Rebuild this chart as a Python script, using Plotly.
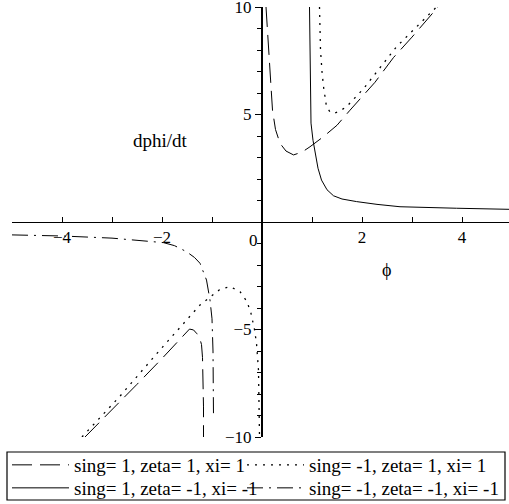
import plotly.graph_objects as go

# ---- data ----
dash_x = [0.08, 0.12, 0.15, 0.18, 0.21, 0.27, 0.36, 0.48, 0.63, 0.8, 0.96, 1.23, 1.5, 1.76, 2.26, 2.63, 3.0, 3.52,
          None,
          -3.54, -3.0, -2.5, -2.0, -1.7, -1.51, -1.45, -1.37, -1.3, -1.24, -1.21, -1.19, -1.18, -1.17, -1.17]
dash_y = [10.0, 8.4, 7.07, 6.0, 5.2, 4.3, 3.66, 3.3, 3.12, 3.25, 3.5, 3.97, 4.5, 5.2, 6.5, 7.65, 8.6, 10.0,
          None,
          -10.0, -8.75, -7.55, -6.35, -5.6, -5.1, -4.98, -5.02, -5.2, -5.45, -5.7, -6.3, -7.2, -8.6, -10.0]

dot_x = [1.15, 1.16, 1.17, 1.2, 1.23, 1.29, 1.36, 1.43, 1.55, 1.69, 2.03, 2.69, 3.49,
         None,
         -3.6, -2.84, -2.04, -1.51, -1.24, -1.04, -0.85, -0.64, -0.44, -0.3, -0.22, -0.15, -0.11, -0.07, -0.06, -0.05]
dot_y = [10.0, 9.0, 8.0, 7.0, 6.3, 5.36, 5.12, 5.05, 5.15, 5.36, 6.2, 8.15, 10.0,
         None,
         -10.0, -8.1, -5.95, -4.56, -3.86, -3.5, -3.15, -3.0, -3.24, -3.7, -4.25, -5.0, -5.64, -6.9, -8.4, -10.0]

solid_x = [0.95, 0.955, 0.96, 0.97, 0.98, 1.02, 1.06, 1.12, 1.19, 1.3, 1.43, 1.6, 1.89, 2.3, 2.76, 3.3, 3.89, 4.94]
solid_y = [10.0, 8.5, 7.2, 6.0, 4.6, 3.8, 3.25, 2.5, 1.95, 1.5, 1.22, 1.07, 0.95, 0.82, 0.71, 0.67, 0.64, 0.59]

dd_x = [-5.0, -4.0, -3.0, -2.5, -1.97, -1.75, -1.51, -1.35, -1.24, -1.11, -1.04, -1.0, -0.98, -0.97]
dd_y = [-0.6, -0.65, -0.75, -0.84, -0.96, -1.1, -1.38, -1.65, -1.92, -2.7, -3.63, -4.5, -6.0, -9.0]

names = ["sing= 1, zeta= 1, xi= 1", "sing= -1, zeta= 1, xi= 1",
         "sing= 1, zeta= -1, xi= -1", "sing= -1, zeta= -1, xi= -1"]

x_ticks = [-4, -2, 2, 4]
y_ticks = [-10, -5, 5, 10]

FONT = "Liberation Serif, Times New Roman, DejaVu Serif, serif"

fig = go.Figure()
fig.add_trace(go.Scatter(x=dash_x, y=dash_y, mode="lines", name=names[0], legend="legend",
                         line=dict(color="black", width=1, dash="20px,8px")))
fig.add_trace(go.Scatter(x=dot_x, y=dot_y, mode="lines", name=names[1], legend="legend2",
                         line=dict(color="black", width=1.3, dash="2px,6px")))
fig.add_trace(go.Scatter(x=solid_x, y=solid_y, mode="lines", name=names[2], legend="legend3",
                         line=dict(color="black", width=1)))
fig.add_trace(go.Scatter(x=dd_x, y=dd_y, mode="lines", name=names[3], legend="legend4",
                         line=dict(color="black", width=1, dash="16px,6px,2px,6px")))

# legend frame (plot area spans 12..509 px horizontally, 7..437 px vertically)
fig.add_shape(type="rect", xref="paper", yref="paper",
              x0=(7 - 12) / 497, x1=(505 - 12) / 497,
              y0=(437 - 500) / 430, y1=(437 - 452) / 430,
              line=dict(color="black", width=1.2), fillcolor="rgba(0,0,0,0)", layer="above")


def legend_at(px, py):
    return dict(xref="container", yref="container", x=px / 509, y=1 - py / 504,
                xanchor="left", yanchor="top", borderwidth=0, bgcolor="rgba(0,0,0,0)",
                itemwidth=57, font=dict(family=FONT, size=19))


fig.update_layout(
    width=509, height=504,
    margin=dict(l=12, r=0, t=7, b=67, autoexpand=False),
    plot_bgcolor="white", paper_bgcolor="white",
    font=dict(family=FONT, size=17, color="black"),
    xaxis=dict(range=[-5, 4.94], anchor="free", position=0.5, showline=True,
               linecolor="black", linewidth=1, showgrid=False, zeroline=False,
               tickvals=x_ticks, ticks="inside", ticklen=5, tickcolor="black",
               ticklabeloverflow="allow",
               minor=dict(dtick=1, tick0=0, ticks="inside", ticklen=5, tickcolor="black"),
               tickfont=dict(family=FONT, size=17)),
    yaxis=dict(range=[-10, 10], anchor="free", position=250 / 497, showline=True,
               linecolor="black", linewidth=2, showgrid=False, zeroline=False,
               tickvals=y_ticks, ticks="outside", ticklen=6, tickcolor="black",
               ticklabeloverflow="allow",
               minor=dict(dtick=1, tick0=0, ticks="outside", ticklen=4, tickcolor="black"),
               tickfont=dict(family=FONT, size=17)),
    showlegend=True,
    legend=legend_at(7, 446),
    legend2=legend_at(242, 446),
    legend3=legend_at(7, 469),
    legend4=legend_at(242, 469),
    annotations=[
        dict(x=-2.04, y=3.81, xref="x", yref="y", text="dphi/dt", showarrow=False,
             font=dict(family=FONT, size=19)),
        dict(x=2.48, y=-2.23, xref="x", yref="y", text="ϕ", showarrow=False,
             font=dict(family=FONT, size=18)),
        dict(x=-0.18, y=-0.84, xref="x", yref="y", text="0", showarrow=False,
             font=dict(family=FONT, size=17)),
    ],
)

fig.write_html("out.html", config={"displayModeBar": False},
               post_script="document.body.style.margin='0';")
